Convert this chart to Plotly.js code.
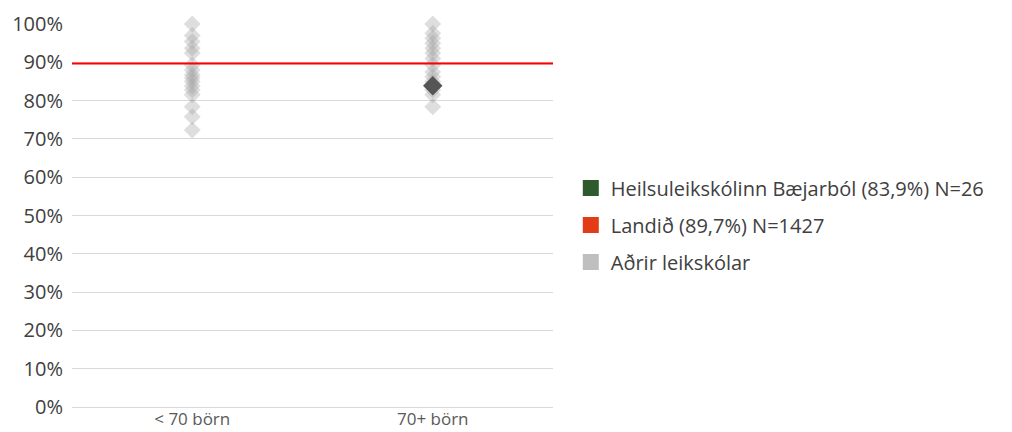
<!DOCTYPE html>
<html>
<head>
<meta charset="utf-8">
<script src="https://cdn.plot.ly/plotly-3.0.1.min.js"></script>
<style>html,body{margin:0;padding:0;background:#fff;}#chart{width:1012px;height:432px;}</style>
</head>
<body>
<div id="chart"></div>
<script>
const categories = ["< 70 börn", "70+ börn"];
const otherSmall = [1.00, 0.97, 0.954, 0.937, 0.924, 0.893, 0.88, 0.867, 0.859, 0.85, 0.838, 0.828, 0.815, 0.784, 0.758, 0.723];
const otherLarge = [1.00, 0.976, 0.963, 0.95, 0.937, 0.924, 0.91, 0.893, 0.875, 0.862, 0.85, 0.828, 0.815, 0.784];
const schoolCategory = "70+ börn";
const schoolValue = 0.839;
const nationalValue = 0.897;
const legendNames = ["Heilsuleikskólinn Bæjarból (83,9%) N=26", "Landið (89,7%) N=1427", "Aðrir leikskólar"];
const legendColors = ["#2e5a2e", "#e23b16", "#bfbfbf"];

const fontFam = "'Open Sans', 'Noto Sans', sans-serif";
const traces = [];
traces.push({
  type: "scatter", mode: "markers",
  x: otherSmall.map(() => categories[0]).concat(otherLarge.map(() => categories[1])),
  y: otherSmall.concat(otherLarge),
  marker: {symbol: "diamond", size: 13, color: "rgba(160,160,160,0.35)", line: {width: 0}},
  showlegend: false, cliponaxis: false, hoverinfo: "y"
});
traces.push({
  type: "scatter", mode: "markers",
  x: [schoolCategory], y: [schoolValue],
  marker: {symbol: "diamond", size: 15, color: "#555555", line: {width: 0}},
  showlegend: false, cliponaxis: false
});
legendNames.forEach((n, i) => {
  traces.push({
    type: "scatter", mode: "markers", x: [null], y: [null], name: n,
    legendgroup: "g" + i,
    marker: {symbol: "square", size: 16, color: legendColors[i]}
  });
});

const layout = {
  width: 1012, height: 432,
  margin: {l: 72, r: 459, t: 24, b: 25},
  paper_bgcolor: "#fff", plot_bgcolor: "#fff",
  font: {family: fontFam, color: "#404040"},
  xaxis: {
    type: "category", categoryarray: categories, range: [-0.5, 1.5],
    showgrid: false, zeroline: false, showline: false,
    tickfont: {size: 17, color: "#595959"}, ticks: "", fixedrange: true
  },
  yaxis: {
    range: [0, 1], dtick: 0.1, tickformat: ".0%",
    showgrid: true, gridcolor: "#d9d9d9", gridwidth: 1,
    zeroline: true, zerolinecolor: "#d9d9d9", zerolinewidth: 1,
    showline: false, ticks: "", ticklabelstandoff: 8,
    tickfont: {size: 20, color: "#404040"}
  },
  shapes: [{
    type: "line", xref: "paper", x0: 0, x1: 1, yref: "y", y0: nationalValue, y1: nationalValue,
    line: {color: "#ff0000", width: 2}, layer: "above"
  }],
  legend: {
    x: 1.037, xanchor: "left", y: 0.475, yanchor: "middle",
    font: {size: 20, color: "#404040"}, tracegroupgap: 8,
    bgcolor: "rgba(0,0,0,0)"
  },
  showlegend: true
};
Plotly.newPlot("chart", traces, layout, {displayModeBar: false, staticPlot: true});
</script>
</body>
</html>
